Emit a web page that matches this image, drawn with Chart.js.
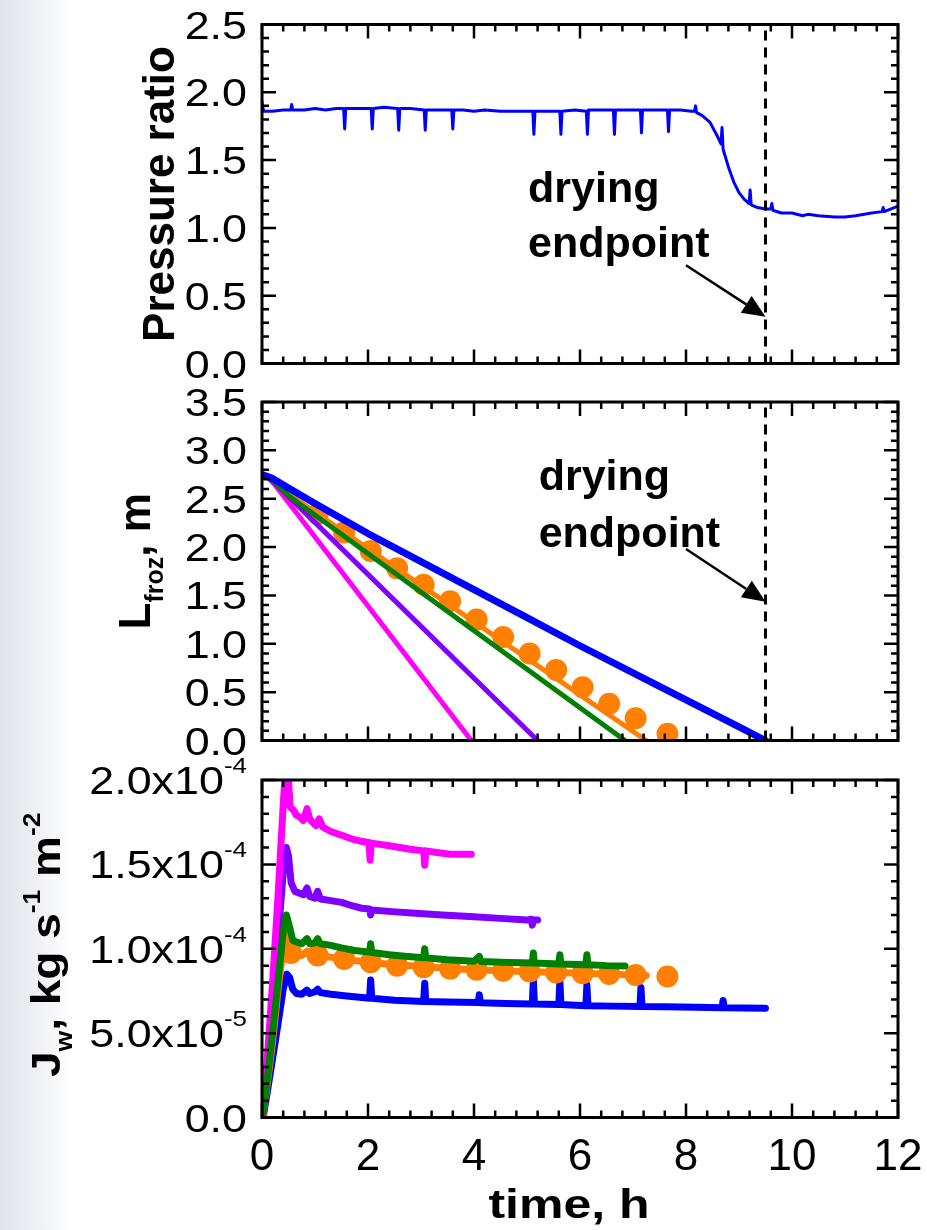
<!DOCTYPE html>
<html>
<head>
<meta charset="utf-8">
<script src="https://cdn.jsdelivr.net/npm/chart.js@4.4.0/dist/chart.umd.min.js"></script>
<style>
  html, body { margin: 0; padding: 0; }
  body {
    width: 927px; height: 1230px; position: relative; overflow: hidden;
    background: linear-gradient(to right, #e2e6eb 0px, #eaedf1 28px, #ffffff 72px);
  }
  canvas { position: absolute; left: 0; top: 0; width: 927px; height: 1230px; }
</style>
</head>
<body>
<canvas id="c1" width="927" height="1230"></canvas>
<canvas id="c2" width="927" height="1230"></canvas>
<canvas id="c3" width="927" height="1230"></canvas>
<script>
const FONT = '"Liberation Sans", Arial, Helvetica, sans-serif';

// shared time axis (h)
const xTicks = [0, 2, 4, 6, 8, 10, 12];
const xTickLabels = ['0', '2', '4', '6', '8', '10', '12'];
const endpointTime = 9.5;

// panel 1 - pressure ratio
const pressureTicks = [0, 0.5, 1, 1.5, 2, 2.5];
const pressureTickLabels = ['0.0', '0.5', '1.0', '1.5', '2.0', '2.5'];
const pressureTime = [0, 0.03, 0.2, 0.4, 0.54, 0.56, 0.58, 0.8, 1.0, 1.2, 1.4, 1.54, 1.56, 1.58, 1.8,
  2.06, 2.08, 2.1, 2.3, 2.56, 2.58, 2.6, 2.8, 3.06, 3.08, 3.1, 3.3, 3.58, 3.6, 3.62, 3.8, 4.0, 4.2,
  4.5, 4.8, 5.11, 5.13, 5.15, 5.4, 5.62, 5.64, 5.66, 5.9, 6.12, 6.14, 6.16, 6.4, 6.63, 6.65, 6.67,
  6.9, 7.14, 7.16, 7.18, 7.4, 7.65, 7.67, 7.69, 7.9, 8.1, 8.16, 8.18, 8.2, 8.3, 8.45, 8.6, 8.66,
  8.68, 8.7, 8.8, 8.9, 9.0, 9.1, 9.19, 9.21, 9.23, 9.35, 9.5, 9.6, 9.62, 9.64, 9.8, 10.0, 10.2,
  10.3, 10.5, 10.8, 11.0, 11.2, 11.5, 11.7, 11.72, 11.74, 12.0];
const pressureRatio = [1.93, 1.86, 1.86, 1.87, 1.87, 1.91, 1.87, 1.87, 1.88, 1.87, 1.88, 1.88, 1.73, 1.88, 1.88,
  1.88, 1.73, 1.88, 1.89, 1.88, 1.72, 1.88, 1.88, 1.87, 1.72, 1.87, 1.87, 1.87, 1.73, 1.87, 1.87, 1.86, 1.87,
  1.86, 1.86, 1.86, 1.69, 1.86, 1.86, 1.86, 1.69, 1.86, 1.87, 1.86, 1.69, 1.87, 1.87, 1.87, 1.69, 1.87,
  1.87, 1.87, 1.70, 1.87, 1.87, 1.87, 1.71, 1.87, 1.87, 1.86, 1.86, 1.90, 1.85, 1.83, 1.78, 1.67, 1.62,
  1.74, 1.58, 1.45, 1.34, 1.26, 1.21, 1.18, 1.28, 1.17, 1.15, 1.14, 1.14, 1.18, 1.13, 1.11, 1.11, 1.09,
  1.10, 1.09, 1.08, 1.08, 1.09, 1.11, 1.12, 1.15, 1.12, 1.16];

// panel 2 - frozen layer thickness
const lfrozTicks = [0, 0.5, 1, 1.5, 2, 2.5, 3, 3.5];
const lfrozTickLabels = ['0.0', '0.5', '1.0', '1.5', '2.0', '2.5', '3.0', '3.5'];
const lBlueTime = [0, 0.2, 0.5, 1, 2, 3, 4, 5, 6, 7, 8, 9, 9.5];
const lBlue = [2.75, 2.71, 2.61, 2.45, 2.14, 1.85, 1.56, 1.27, 0.98, 0.70, 0.42, 0.14, 0];
const lGreenTime = [0, 0.15, 0.5, 6.85];
const lGreen = [2.75, 2.72, 2.53, 0];
const lOrangeTime = [0, 0.15, 0.5, 7.25];
const lOrange = [2.75, 2.72, 2.55, 0];
const lPurpleTime = [0, 0.1, 0.3, 5.2];
const lPurple = [2.75, 2.73, 2.63, 0];
const lMagentaTime = [0, 0.1, 0.25, 3.95];
const lMagenta = [2.75, 2.73, 2.64, 0];
const lDotTime = [1.05, 1.55, 2.05, 2.55, 3.05, 3.55, 4.05, 4.55, 5.05, 5.55, 6.05, 6.55, 7.05, 7.65];
const lDot = [2.34, 2.15, 1.96, 1.78, 1.61, 1.44, 1.25, 1.07, 0.90, 0.73, 0.55, 0.38, 0.23, 0.07];

// panel 3 - sublimation flux, in units of 1e-5 kg s^-1 m^-2
const jwTicks = [0, 5, 10, 15, 20];
const jwTickLabels = ['0.0', '5.0x10^{-5}', '1.0x10^{-4}', '1.5x10^{-4}', '2.0x10^{-4}'];
const jMagentaTime = [0.02, 0.1, 0.2, 0.3, 0.4, 0.45, 0.5, 0.53, 0.6, 0.65, 0.72, 0.78, 0.85, 0.9, 0.95,
  1.02, 1.08, 1.15, 1.3, 1.53, 1.7, 1.9, 2.02, 2.04, 2.06, 2.2, 2.4, 2.6, 2.8, 3.05, 3.07, 3.09, 3.3,
  3.55, 3.8, 3.95];
const jMagenta = [0, 3.5, 8, 13, 18.5, 21, 20, 18.4, 18.2, 17.9, 17.8, 17.6, 18.3, 17.7, 17.5,
  17.3, 17.7, 17.2, 16.95, 16.7, 16.5, 16.35, 16.3, 15.25, 16.25, 16.2, 16.1, 16.0, 15.9, 15.8, 14.95, 15.8, 15.7,
  15.6, 15.6, 15.6];
const jPurpleTime = [0.02, 0.1, 0.2, 0.3, 0.4, 0.46, 0.5, 0.55, 0.62, 0.7, 0.78, 0.85, 0.9, 1.0, 1.05, 1.1,
  1.3, 1.5, 1.7, 1.88, 2.03, 2.05, 2.07, 2.45, 2.9, 3.4, 4.0, 4.5, 5.0, 5.08, 5.1, 5.12, 5.2];
const jPurple = [0, 3, 6.5, 10.5, 14.5, 16.0, 15.5, 13.9, 13.4, 13.3, 13.2, 13.6, 13.1, 13.0, 13.4, 12.95,
  12.85, 12.75, 12.55, 12.4, 12.35, 12.0, 12.3, 12.2, 12.1, 12.0, 11.9, 11.8, 11.7, 11.75, 11.4, 11.7, 11.7];
const jGreenTime = [0.02, 0.1, 0.2, 0.3, 0.4, 0.46, 0.52, 0.58, 0.65, 0.75, 0.85, 0.9, 1.0, 1.05, 1.1, 1.3,
  1.5, 1.75, 2.03, 2.05, 2.07, 2.4, 2.7, 3.05, 3.07, 3.09, 3.5, 4.0, 4.1, 4.13, 4.5, 5.1, 5.12, 5.14,
  5.6, 5.62, 5.64, 6.11, 6.13, 6.15, 6.5, 6.85];
const jGreen = [0.3, 2.2, 5, 8, 11, 12.0, 11.3, 10.5, 10.4, 10.3, 10.6, 10.3, 10.35, 10.6, 10.3, 10.2,
  10.05, 9.9, 9.8, 10.3, 9.78, 9.65, 9.55, 9.47, 10.0, 9.46, 9.35, 9.26, 9.55, 9.24, 9.2, 9.15, 9.75, 9.15,
  9.1, 9.65, 9.1, 9.05, 9.65, 9.05, 9.0, 8.98];
const jOrangeTime = [0.02, 0.1, 0.2, 0.3, 0.4, 0.46, 0.52, 0.6, 0.75, 0.85, 0.9, 1.0, 1.05, 1.1, 1.5, 2.0,
  2.5, 3.0, 3.5, 4.0, 4.5, 5.0, 5.5, 6.0, 6.5, 7.0, 7.25];
const jOrange = [0.2, 2, 4.5, 7.5, 10, 11.2, 10.2, 9.8, 9.6, 9.85, 9.6, 9.65, 9.9, 9.6, 9.4, 9.2,
  9.05, 8.95, 8.85, 8.75, 8.7, 8.65, 8.6, 8.55, 8.5, 8.45, 8.42];
const jDotTime = [0.55, 1.05, 1.55, 2.05, 2.55, 3.05, 3.55, 4.05, 4.55, 5.05, 5.55, 6.05, 6.55, 7.05, 7.65];
const jDot = [9.75, 9.6, 9.4, 9.2, 9.0, 8.9, 8.82, 8.75, 8.7, 8.65, 8.6, 8.55, 8.5, 8.45, 8.35];
const jBlueTime = [0.02, 0.1, 0.2, 0.3, 0.4, 0.47, 0.52, 0.58, 0.65, 0.75, 0.85, 0.9, 1.0, 1.05, 1.1, 1.3,
  1.6, 2.03, 2.05, 2.07, 2.5, 3.05, 3.07, 3.09, 3.5, 4.08, 4.1, 4.12, 4.6, 5.1, 5.12, 5.14, 5.6, 5.62,
  5.64, 6.11, 6.13, 6.15, 6.6, 7.13, 7.15, 7.17, 7.6, 8.2, 8.68, 8.7, 8.72, 9.1, 9.5];
const jBlue = [0, 1.5, 3.5, 5.5, 7.6, 8.5, 8.3, 7.6, 7.35, 7.3, 7.55, 7.35, 7.45, 7.6, 7.4, 7.3,
  7.2, 7.07, 8.15, 7.07, 6.95, 6.87, 7.96, 6.87, 6.84, 6.81, 7.27, 6.8, 6.76, 6.73, 8.15, 6.73, 6.7, 8.1,
  6.7, 6.62, 7.86, 6.62, 6.6, 6.58, 7.7, 6.58, 6.56, 6.53, 6.5, 6.93, 6.5, 6.49, 6.48];

const BLUE = '#0000ff', MAGENTA = '#ff00ff', PURPLE = '#8000ff', GREEN = '#008000', ORANGE = '#ff8000';

function pts(xs, ys) {
  return xs.map((x, i) => ({ x: x, y: ys[i] }));
}

function line(xs, ys, color, width, order) {
  return {
    data: pts(xs, ys), borderColor: color, borderWidth: width, pointRadius: 0,
    borderJoinStyle: 'round', borderCapStyle: 'round', tension: 0, fill: false, order: order
  };
}

function dots(xs, ys, color, r, order) {
  return {
    data: pts(xs, ys), showLine: false, pointRadius: r, pointBackgroundColor: color,
    pointBorderWidth: 0, order: order
  };
}

function endpointLine(top) {
  return {
    data: [{ x: endpointTime, y: 0 }, { x: endpointTime, y: top }], borderColor: '#000',
    borderWidth: 3, borderDash: [10, 7], pointRadius: 0, order: 0
  };
}

// "a_{sub}" and "a^{sup}" into parts
function parse(str) {
  const out = [];
  const re = /\^\{([^}]*)\}|_\{([^}]*)\}|[^^_]+/g;
  let m;
  while ((m = re.exec(str))) {
    if (m[1] !== undefined) out.push({ t: m[1], sup: true });
    else if (m[2] !== undefined) out.push({ t: m[2], sub: true });
    else out.push({ t: m[0] });
  }
  return out;
}

function drawRich(ctx, str, x, y, o) {
  const parts = parse(str);
  const size = o.size, hs = o.hs || 1, weight = o.bold ? 'bold ' : '';
  const fontOf = p => weight + Math.round(p.sup || p.sub ? size * 0.57 : size) + 'px ' + FONT;
  let w = 0;
  parts.forEach(p => { ctx.font = fontOf(p); w += ctx.measureText(p.t).width; });
  ctx.save();
  ctx.translate(x, y);
  if (o.rotate) ctx.rotate(o.rotate);
  ctx.scale(hs, 1);
  ctx.textBaseline = 'alphabetic';
  ctx.textAlign = 'left';
  ctx.fillStyle = '#000';
  let cx = o.align === 'right' ? -w : o.align === 'center' ? -w / 2 : 0;
  parts.forEach(p => {
    ctx.font = fontOf(p);
    const dy = p.sup ? -size * (o.supShift || 0.5) : p.sub ? size * 0.3 : 0;
    ctx.fillText(p.t, cx, dy);
    cx += ctx.measureText(p.t).width;
  });
  ctx.restore();
}

function decor(cfg) {
  return {
    id: 'decor',
    afterDatasetsDraw(chart) {
      const ctx = chart.ctx, a = chart.chartArea;
      const xs = chart.scales.x, ys = chart.scales.y;
      ctx.save();
      ctx.strokeStyle = '#000';
      ctx.lineWidth = 2.5;
      ctx.lineCap = 'butt';
      ctx.beginPath();
      // time ticks on bottom and top, minor every 0.4 h
      for (let i = 0; i <= 30; i++) {
        const v = i * 0.4;
        const len = xTicks.some(t => Math.abs(t - v) < 1e-6) ? 14 : 7;
        const px = xs.getPixelForValue(v);
        ctx.moveTo(px, a.bottom); ctx.lineTo(px, a.bottom - len);
        ctx.moveTo(px, a.top); ctx.lineTo(px, a.top + len);
      }
      // value ticks on left and right
      const n = Math.round(cfg.yMax / cfg.yMinor);
      for (let i = 0; i <= n; i++) {
        const v = i * cfg.yMinor;
        const len = cfg.yTicks.some(t => Math.abs(t - v) < 1e-6) ? 14 : 7;
        const py = ys.getPixelForValue(v);
        ctx.moveTo(a.left, py); ctx.lineTo(a.left + len, py);
        ctx.moveTo(a.right, py); ctx.lineTo(a.right - len, py);
      }
      ctx.stroke();
      ctx.lineWidth = 3;
      ctx.strokeRect(a.left, a.top, a.right - a.left, a.bottom - a.top);

      // tick labels
      cfg.yTicks.forEach((v, i) => {
        drawRich(ctx, cfg.yLabels[i], a.left - 15, ys.getPixelForValue(v) + 14,
          { size: 38, hs: 1.18, align: 'right', supShift: 0.55 });
      });
      if (cfg.xLabels) {
        xTicks.forEach((v, i) => {
          drawRich(ctx, xTickLabels[i], xs.getPixelForValue(v), a.bottom + 52,
            { size: 44, align: 'center' });
        });
        drawRich(ctx, 'time, h', 569, a.bottom + 100, { size: 40, bold: true, hs: 1.25, align: 'center' });
      }

      // axis title
      drawRich(ctx, cfg.title, cfg.titleX, (a.top + a.bottom) / 2 + (cfg.titleDy || 0),
        { size: cfg.titleSize || 44, bold: true, hs: cfg.titleHs || 1, align: 'center', rotate: -Math.PI / 2 });

      // annotation
      if (cfg.note) {
        const nt = cfg.note;
        const tx = xs.getPixelForValue(nt.textAt[0]);
        drawRich(ctx, 'drying', tx, ys.getPixelForValue(nt.textAt[1]), { size: 43, bold: true });
        drawRich(ctx, 'endpoint', tx, ys.getPixelForValue(nt.textAt[2]), { size: 43, bold: true });
        const x0 = xs.getPixelForValue(nt.from[0]), y0 = ys.getPixelForValue(nt.from[1]);
        const x1 = xs.getPixelForValue(nt.to[0]), y1 = ys.getPixelForValue(nt.to[1]);
        const ang = Math.atan2(y1 - y0, x1 - x0);
        const hl = 23, hw = 10;
        const bx = x1 - hl * Math.cos(ang), by = y1 - hl * Math.sin(ang);
        ctx.lineWidth = 2.5;
        ctx.beginPath();
        ctx.moveTo(x0, y0); ctx.lineTo(bx, by);
        ctx.stroke();
        ctx.fillStyle = '#000';
        ctx.beginPath();
        ctx.moveTo(x1, y1);
        ctx.lineTo(bx + hw * Math.sin(ang), by - hw * Math.cos(ang));
        ctx.lineTo(bx - hw * Math.sin(ang), by + hw * Math.cos(ang));
        ctx.closePath();
        ctx.fill();
      }
      ctx.restore();
    }
  };
}

function makeChart(id, top, bottom, yMax, datasets, cfg) {
  cfg.yMax = yMax;
  return new Chart(document.getElementById(id), {
    type: 'line',
    data: { datasets: datasets },
    options: {
      responsive: false,
      animation: false,
      events: [],
      layout: { padding: { left: 262, right: 29, top: top, bottom: 1230 - bottom } },
      plugins: { legend: { display: false }, tooltip: { enabled: false } },
      scales: {
        x: { type: 'linear', min: 0, max: 12, display: false },
        y: { type: 'linear', min: 0, max: yMax, display: false }
      }
    },
    plugins: [decor(cfg)]
  });
}

makeChart('c1', 24.5, 363.5, 2.5, [
  endpointLine(2.5),
  line(pressureTime, pressureRatio, BLUE, 3, 1)
], {
  yTicks: pressureTicks, yLabels: pressureTickLabels, yMinor: 0.1,
  title: 'Pressure ratio', titleX: 174, titleSize: 44,
  note: { textAt: [5.02, 1.193, 0.788], from: [8.0, 0.724], to: [9.5, 0.344] }
});

makeChart('c2', 402, 740.5, 3.5, [
  endpointLine(3.5),
  line(lBlueTime, lBlue, BLUE, 7, 1),
  line(lGreenTime, lGreen, GREEN, 5, 2),
  line(lPurpleTime, lPurple, PURPLE, 5, 3),
  line(lMagentaTime, lMagenta, MAGENTA, 5, 4),
  dots(lDotTime, lDot, ORANGE, 11, 5),
  line(lOrangeTime, lOrange, ORANGE, 5, 6)
], {
  yTicks: lfrozTicks, yLabels: lfrozTickLabels, yMinor: 0.1,
  title: 'L_{froz}, m', titleX: 150, titleSize: 44, titleDy: -10,
  note: { textAt: [5.22, 2.59, 2.0], from: [8.0, 1.98], to: [9.5, 1.435] }
});

makeChart('c3', 780, 1117.5, 20, [
  line(jGreenTime, jGreen, GREEN, 7, 1),
  line(jMagentaTime, jMagenta, MAGENTA, 7, 2),
  line(jPurpleTime, jPurple, PURPLE, 7, 3),
  dots(jDotTime, jDot, ORANGE, 11, 4),
  line(jOrangeTime, jOrange, ORANGE, 7, 5),
  line(jBlueTime, jBlue, BLUE, 7, 6)
], {
  yTicks: jwTicks, yLabels: jwTickLabels, yMinor: 1,
  title: 'J_{w}, kg s^{-1} m^{-2}', titleX: 60, titleSize: 40, titleHs: 1.15, titleDy: -4,
  xLabels: true
});
</script>
</body>
</html>
